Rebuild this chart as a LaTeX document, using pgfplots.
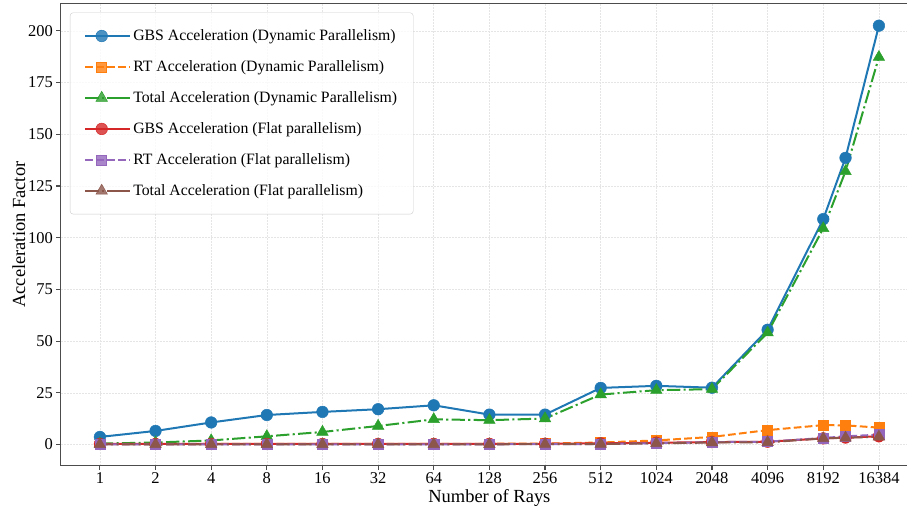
\documentclass[border=0pt]{standalone}
\usepackage{fontspec}
\setmainfont{Liberation Serif}
\usepackage{pgfplots}
\pgfplotsset{compat=1.18}
\definecolor{tabblue}{HTML}{1F77B4}
\definecolor{taborange}{HTML}{FF7F0E}
\definecolor{tabgreen}{HTML}{2CA02C}
\definecolor{tabred}{HTML}{D62728}
\definecolor{tabpurple}{HTML}{9467BD}
\definecolor{tabbrown}{HTML}{8C564B}
\begin{document}
\begin{tikzpicture}
\begin{axis}[
  scale only axis, width=855bp, height=461bp,
  xmin=-0.7, xmax=14.7, ymin=-10.15, ymax=213.2,
  xtick={0,...,14},
  xticklabels={1,2,4,8,16,32,64,128,256,512,1024,2048,4096,8192,16384},
  ytick={0,25,...,200},
  /pgf/number format/assume math mode=true,
  tick label style={font=\fontsize{16.5}{18}\selectfont},
  xticklabel style={yshift=1bp},
  xlabel={Number of Rays}, ylabel={Acceleration Factor},
  label style={font=\fontsize{18.5}{20}\selectfont},
  xlabel style={yshift=1bp},
  ylabel style={yshift=-4bp},
  grid=major, grid style={black!10, dash pattern=on 2bp off 1bp, line width=0.6bp},
  axis line style={black!70, line width=1.1bp},
  tick align=outside, tick pos=left, major tick length=4.5bp,
  tick style={black!70, line width=1.1bp},
  legend cell align=left,
  legend style={at={(0.0105,0.9805)}, anchor=north west, draw=black!20, rounded corners=3bp,
    fill=white, fill opacity=0.8, text opacity=1, font=\fontsize{15.8}{18}\selectfont,
    row sep=14.5bp, inner xsep=14bp, inner ysep=15bp},
  legend image code/.code={\draw[mark repeat=2,mark phase=2] plot coordinates {(0bp,0bp)(16.5bp,0bp)(33bp,0bp)};
     \path (33bp,0bp) -- (45bp,0bp);},
  every axis plot/.append style={line width=2bp},
]
\coordinate (R) at (axis cs:14.505,0);
\addplot[tabblue, mark=*, mark size=5.8bp, mark options={solid, fill=tabblue, line width=0.5bp}] coordinates {
(0,3.7)(1,6.6)(2,10.7)(3,14.3)(4,15.8)(5,17.1)(6,19.0)(7,14.5)(8,14.5)(9,27.4)(10,28.4)(11,27.5)(12,55.5)(13,109.0)(13.4,138.6)(14,202.5)};
\addlegendentry{GBS Acceleration (Dynamic Parallelism)}
\addplot[taborange, dash pattern=on 7.7bp off 3.3bp, mark=square*, mark size=5bp, mark options={solid, fill=taborange, line width=0.5bp}] coordinates {
(0,0.2)(1,0.2)(2,0.3)(3,0.3)(4,0.3)(5,0.3)(6,0.4)(7,0.4)(8,0.5)(9,1.0)(10,2.0)(11,3.7)(12,7.0)(13,9.4)(13.4,9.3)(14,8.2)};
\addlegendentry{RT Acceleration (Dynamic Parallelism)}
\addplot[tabgreen, dash pattern=on 13.3bp off 3.3bp on 2.1bp off 3.3bp, mark=triangle*, mark size=6.6bp, mark options={solid, fill=tabgreen, line width=0.5bp}] coordinates {
(0,0.5)(1,1.0)(2,2.0)(3,4.0)(4,6.1)(5,9.0)(6,12.2)(7,11.8)(8,12.6)(9,24.2)(10,26.3)(11,26.8)(12,54.1)(13,104.5)(13.4,132.1)(14,187.3)};
\addlegendentry{Total Acceleration (Dynamic Parallelism)}
\addplot[tabred, mark=*, mark size=5.8bp, mark options={solid, fill=tabred, line width=0.5bp}] coordinates {
(0,0.3)(1,0.3)(2,0.3)(3,0.3)(4,0.3)(5,0.3)(6,0.35)(7,0.35)(8,0.4)(9,0.6)(10,0.9)(11,1.2)(12,1.4)(13,3.0)(13.4,3.4)(14,4.0)};
\addlegendentry{GBS Acceleration (Flat parallelism)}
\addplot[tabpurple, dash pattern=on 7.7bp off 3.3bp, mark=square*, mark size=5bp, mark options={solid, fill=tabpurple, line width=0.5bp}] coordinates {
(0,0.1)(1,0.1)(2,0.1)(3,0.1)(4,0.1)(5,0.1)(6,0.15)(7,0.15)(8,0.2)(9,0.3)(10,0.7)(11,1.2)(12,1.4)(13,3.2)(13.4,4.0)(14,4.8)};
\addlegendentry{RT Acceleration (Flat parallelism)}
\addplot[tabbrown, dash pattern=on 13.3bp off 3.3bp on 2.1bp off 3.3bp, mark=triangle*, mark size=6.6bp, mark options={solid, fill=tabbrown, line width=0.5bp}] coordinates {
(0,0.1)(1,0.1)(2,0.1)(3,0.1)(4,0.1)(5,0.1)(6,0.15)(7,0.15)(8,0.2)(9,0.3)(10,0.6)(11,1.0)(12,1.1)(13,3.0)(13.4,3.3)(14,3.8)};
\addlegendentry{Total Acceleration (Flat parallelism)}
\end{axis}
\pgfresetboundingbox
\path[use as bounding box] ([xshift=-9bp,yshift=-2bp]current axis.outer south west) rectangle ([yshift=3bp]R |- current axis.outer north east);
\end{tikzpicture}
\end{document}
